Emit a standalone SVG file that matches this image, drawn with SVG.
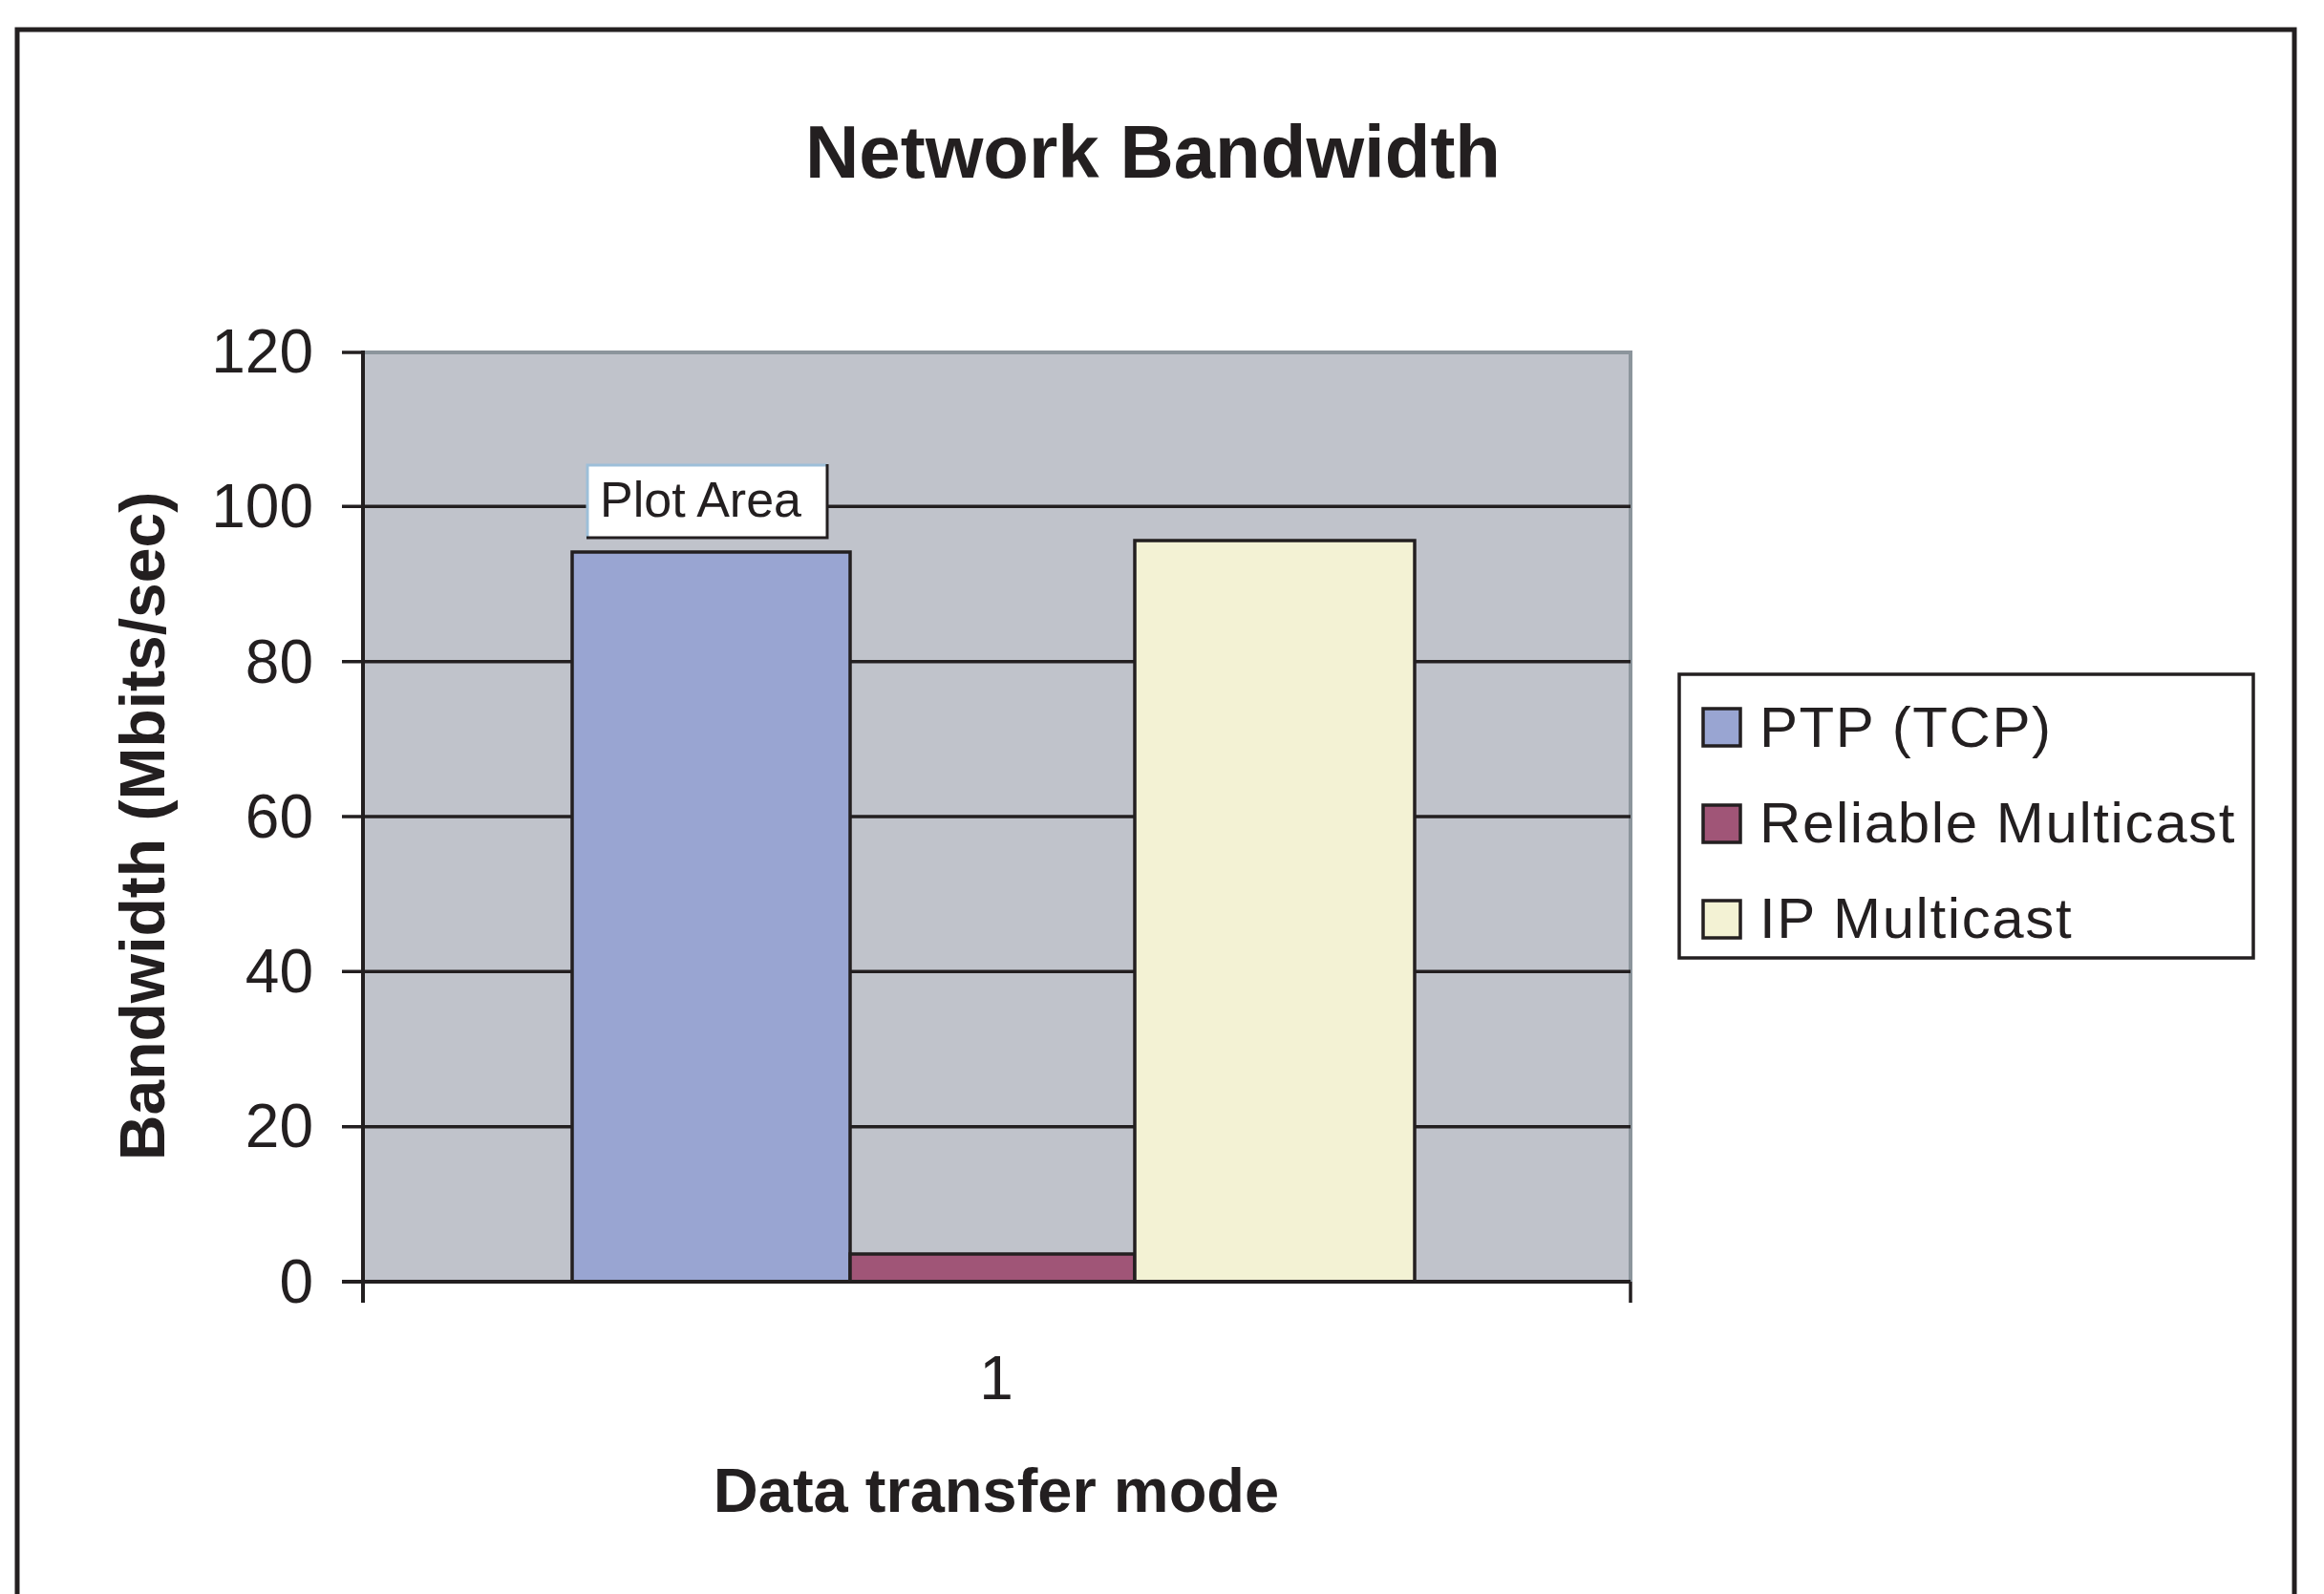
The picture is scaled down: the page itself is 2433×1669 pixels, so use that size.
<svg xmlns="http://www.w3.org/2000/svg" width="2433" height="1669" viewBox="0 0 2433 1669">
<style>
.t{font-family:"Liberation Sans",Arial,sans-serif;fill:#231f20}
.b{font-weight:bold}
.tick{font-size:64px;text-anchor:end}
.leg{font-size:60px;letter-spacing:1.6px}
.grid{stroke:#231f20;stroke-width:3.5}
.bar{stroke:#231f20;stroke-width:3.5}
</style>
<rect width="2433" height="1669" fill="#ffffff"/>
<g id="frame"><path d="M18,1680 V31 H2402 V1680" fill="none" stroke="#231f20" stroke-width="5"/></g>
<g id="title"><text class="t b" x="1207" y="186" font-size="78" text-anchor="middle">Network Bandwidth</text></g>
<g id="plot-area">
<rect x="380" y="368" width="1327" height="974" fill="#c0c3cb"/>
<path d="M380,369 H1707 V1342" fill="none" stroke="#8c959c" stroke-width="4"/>
</g>
<g id="gridlines">
<line class="grid" x1="358" y1="530.3" x2="1707" y2="530.3"/>
<line class="grid" x1="358" y1="692.7" x2="1707" y2="692.7"/>
<line class="grid" x1="358" y1="855" x2="1707" y2="855"/>
<line class="grid" x1="358" y1="1017.3" x2="1707" y2="1017.3"/>
<line class="grid" x1="358" y1="1179.7" x2="1707" y2="1179.7"/>
<line class="grid" x1="358" y1="369" x2="380" y2="369"/>
</g>
<g id="bars">
<rect id="bar-ptp" class="bar" x="599" y="578" width="291" height="764" fill="#99a5d2"/>
<rect id="bar-reliable" class="bar" x="890" y="1313" width="298" height="29" fill="#a05577"/>
<rect id="bar-ip" class="bar" x="1188" y="566" width="293" height="776" fill="#f3f2d4"/>
</g>
<g id="axes">
<line x1="380" y1="367" x2="380" y2="1364" stroke="#231f20" stroke-width="4"/>
<line x1="358" y1="1342" x2="1707" y2="1342" stroke="#231f20" stroke-width="4"/>
<line x1="1707" y1="1342" x2="1707" y2="1364" stroke="#231f20" stroke-width="3.5"/>
</g>
<g id="y-ticks">
<text class="t tick" x="328" y="390">120</text>
<text class="t tick" x="328" y="552">100</text>
<text class="t tick" x="328" y="715">80</text>
<text class="t tick" x="328" y="877">60</text>
<text class="t tick" x="328" y="1039">40</text>
<text class="t tick" x="328" y="1201">20</text>
<text class="t tick" x="328" y="1364">0</text>
</g>
<g id="x-tick"><text class="t" x="1043" y="1465" font-size="64" text-anchor="middle">1</text></g>
<g id="y-title"><text class="t b" transform="translate(172,865) rotate(-90)" font-size="66" text-anchor="middle">Bandwidth (Mbits/sec)</text></g>
<g id="x-title"><text class="t b" x="1043" y="1583" font-size="65" text-anchor="middle">Data transfer mode</text></g>
<g id="tooltip">
<rect x="614" y="486" width="252" height="77" fill="#ffffff"/>
<path d="M615,563 V487 H866" fill="none" stroke="#9dbfd9" stroke-width="3"/>
<path d="M866,486 V563 H614" fill="none" stroke="#231f20" stroke-width="3"/>
<text class="t" x="628" y="541" font-size="52">Plot Area</text>
</g>
<g id="legend">
<rect x="1758" y="706" width="601" height="297" fill="#ffffff" stroke="#231f20" stroke-width="3.5"/>
<rect class="bar" x="1783" y="742" width="39" height="39" fill="#99a5d2"/>
<rect class="bar" x="1783" y="843" width="39" height="39" fill="#a05577"/>
<rect class="bar" x="1783" y="943" width="39" height="39" fill="#f3f2d4"/>
<text class="t leg" x="1842" y="782">PTP (TCP)</text>
<text class="t leg" x="1842" y="882">Reliable Multicast</text>
<text class="t leg" x="1842" y="982">IP Multicast</text>
</g>
</svg>
